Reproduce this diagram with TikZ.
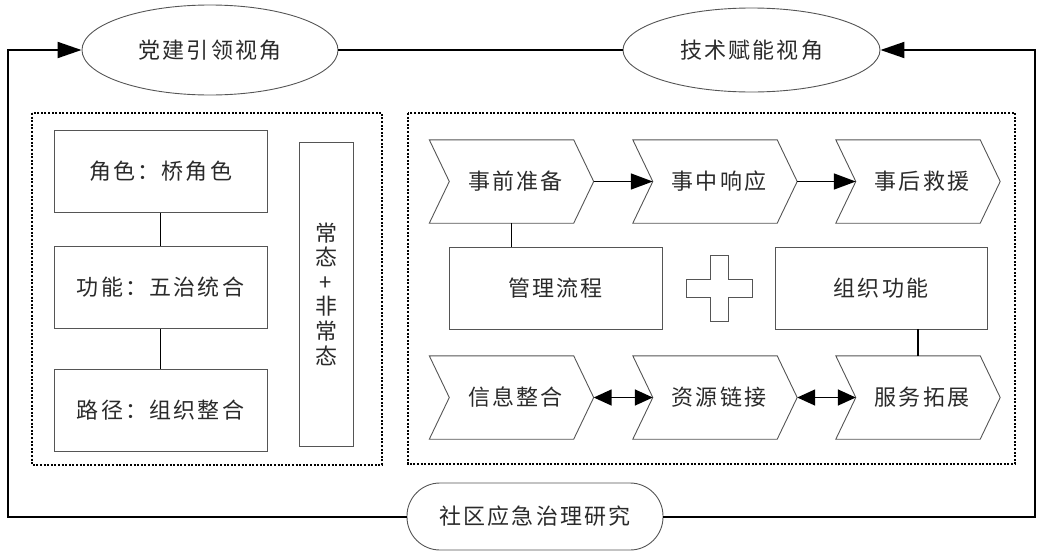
\documentclass[tikz,border=0pt]{standalone}
\usepackage{fontspec}
\setmainfont{Noto Sans CJK SC}[LetterSpace=10]
\newfontfamily\vertfont{Noto Sans CJK SC}
\usetikzlibrary{arrows.meta,shapes.geometric,calc}
\definecolor{boxgray}{HTML}{555555}
\definecolor{txtcol}{HTML}{2A2A2A}
\newcommand\drawchev[1]{\draw[chevline] (#1.north west) -- ([xshift=-20pt]#1.north east) -- (#1.east) -- ([xshift=-20pt]#1.south east) -- (#1.south west) -- ([xshift=20pt]#1.west) -- cycle;}
\begin{document}
\begin{tikzpicture}[x=1pt,y=-1pt,
  txt/.style={font=\fontsize{22}{26}\selectfont, text=txtcol},
  box/.style={txt, draw=boxgray, line width=0.9pt, minimum width=213pt, minimum height=82pt, inner sep=0pt},
  ell/.style={txt, ellipse, draw=boxgray, line width=0.9pt, inner sep=0pt},
  stad/.style={txt, draw=boxgray, line width=0.9pt, rounded corners=33pt, minimum width=256pt, minimum height=67pt, inner sep=0pt},
  chev/.style={txt, minimum width=164pt, minimum height=83pt, inner sep=0pt, execute at begin node={\hspace*{8pt}}},
  chevline/.style={draw=boxgray, line width=0.9pt},
  conn/.style={draw=black, line width=1.6pt},
  outer/.style={draw=black, line width=2pt},
  arr/.style={conn, -{Triangle[length=22pt,width=16pt]}},
  darr/.style={conn, {Triangle[length=18pt,width=16pt]}-{Triangle[length=18pt,width=16pt]}},
  bigarr/.style={outer, -{Triangle[length=24pt,width=16pt]}},
  dotbox/.style={draw=black, line width=2pt, dash pattern=on 2pt off 1.6pt}
]
\useasboundingbox (0,0) rectangle (1038,552);

% top ellipses and bottom stadium
\node[ell, minimum width=256pt, minimum height=90pt] (e1) at (210,50) {党建引领视角};
\node[ell, minimum width=257pt, minimum height=84pt] (e2) at (751.5,50) {技术赋能视角};
\node[stad] (st) at (535,516.5) {社区应急治理研究};
\coordinate (tl) at (8,50);
\coordinate (tr) at (1035,50);

\draw[outer] (e1.east) -- (e2.west);
\draw[bigarr] (st.west) -- (st.west -| tl) -- (tl) -- (e1.west);
\draw[bigarr] (st.east) -- (st.east -| tr) -- (tr) -- (e2.east);

% dotted frames
\draw[dotbox] (32,113) rectangle (382,465);
\draw[dotbox] (408,113) rectangle (1015,464);

% left column
\node[box] (r1) at (160.5,171.5) {角色：桥角色};
\node[box] (r2) at (160.5,287.5) {功能：五治统合};
\node[box] (r3) at (160.5,410) {路径：组织整合};
\draw[conn] (r1) -- (r2);
\draw[conn] (r2) -- (r3);
\node[box, minimum width=54pt, minimum height=304pt, align=center, font=\vertfont\fontsize{22}{24.6}\selectfont] (tv) at (326,294) {常\\态\\+\\非\\常\\态};

% right: chevrons
\node[chev] (a1) at (511.5,181.5) {事前准备};
\node[chev] (a2) at (715,181.5) {事中响应};
\node[chev] (a3) at (918,181.5) {事后救援};
\node[chev] (b1) at (511.5,397.5) {信息整合};
\node[chev] (b2) at (715,397.5) {资源链接};
\node[chev] (b3) at (918,397.5) {服务拓展};
\drawchev{a1}\drawchev{a2}\drawchev{a3}
\drawchev{b1}\drawchev{b2}\drawchev{b3}

% middle boxes and plus
\node[box] (m1) at (555.5,288) {管理流程};
\node[box, minimum width=212pt] (o1) at (881,288) {组织功能};
\draw[chevline] (710,255) -- (728,255) -- (728,279) -- (752,279) -- (752,297) -- (728,297) -- (728,321) -- (710,321) -- (710,297) -- (686,297) -- (686,279) -- (710,279) -- cycle;

% connectors
\draw[conn] (a1.south) -- (a1.south |- m1.north);
\draw[conn] (b3.north) -- (b3.north |- o1.south);
\draw[arr] (a1.east) -- ([xshift=20pt]a2.west);
\draw[arr] (a2.east) -- ([xshift=20pt]a3.west);
\draw[darr] (b1.east) -- ([xshift=20pt]b2.west);
\draw[darr] (b2.east) -- ([xshift=20pt]b3.west);
\end{tikzpicture}
\end{document}
